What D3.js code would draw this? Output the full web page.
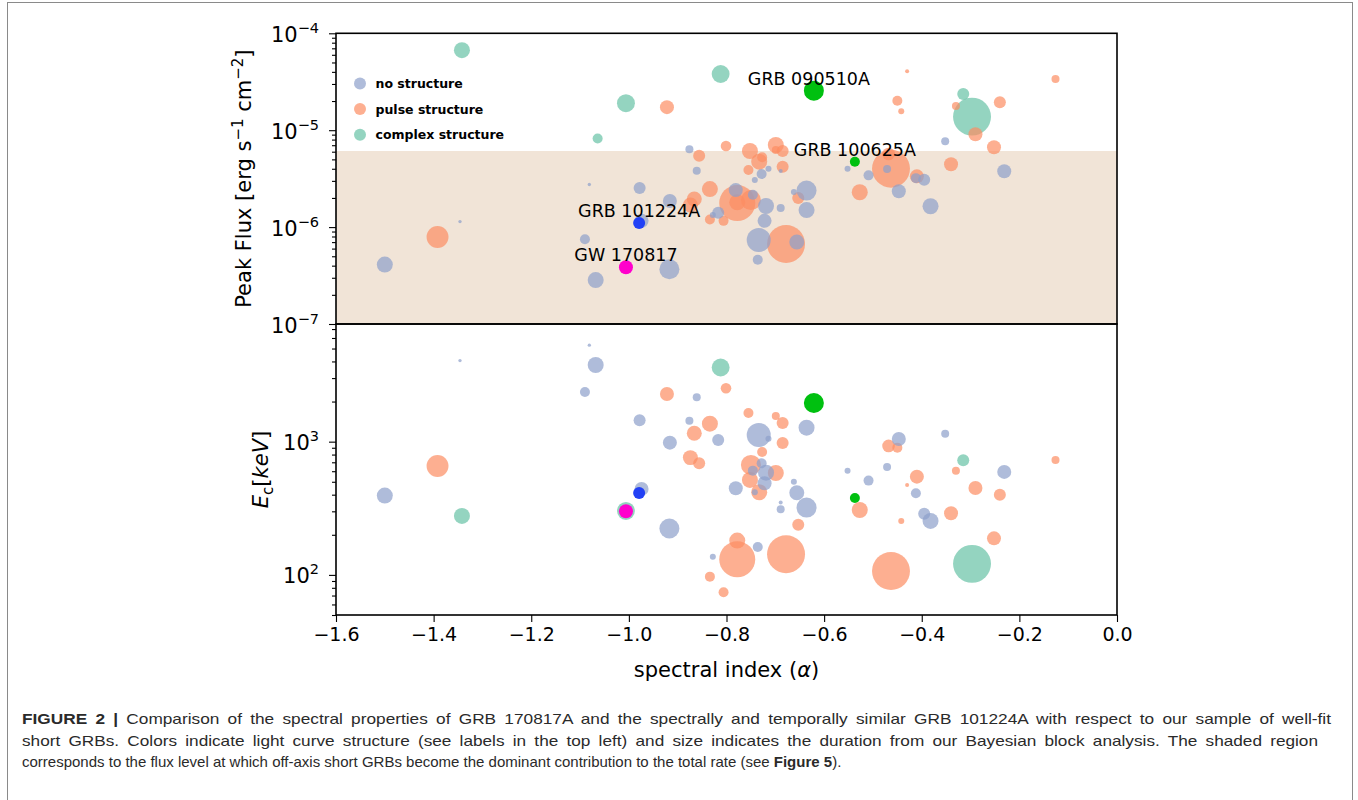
<!DOCTYPE html>
<html>
<head>
<meta charset="utf-8">
<script src="https://cdn.jsdelivr.net/npm/d3@7"></script>
<style>
body{margin:0;background:#fff}
svg{display:block}
</style>
</head>
<body>
<div id="chart"></div>
<script>
// sample of short GRBs, one entry per burst
var alpha = [-1.500,-1.392,-1.342,-1.346,-1.081,-1.090,-1.068,-1.064,-1.006,-0.974,
  -0.978,-0.922,-0.916,-0.917,-0.876,-0.861,-0.856,-0.801,-0.834,-0.866,
  -0.874,-0.817,-0.834,-0.806,-0.812,-0.828,-0.755,-0.699,-0.685,-0.685,
  -0.734,-0.714,-0.727,-0.750,-0.746,-0.728,-0.719,-0.699,-0.752,-0.781,
  -0.722,-0.733,-0.742,-0.662,-0.656,-0.636,-0.689,-0.689,-0.653,-0.636,
  -0.778,-0.736,-0.778,-0.678,-0.552,-0.527,-0.509,-0.471,-0.468,-0.463,
  -0.450,-0.447,-0.442,-0.430,-0.412,-0.410,-0.395,-0.382,-0.352,-0.340,
  -0.330,-0.315,-0.297,-0.290,-0.252,-0.240,-0.231,-0.126];
var peakFlux = [4.1e-7,7.9e-7,6.7e-5,1.14e-6,2.75e-6,7.5e-7,2.84e-7,8.2e-6,1.9e-5,1.16e-6,
  2.53e-6,1.73e-5,1.86e-6,3.67e-7,6.35e-6,3.82e-6,5.45e-6,6.87e-6,2.47e-6,1.95e-6,
  1.69e-6,1.41e-6,1.20e-6,1.16e-6,3.80e-5,1.33e-6,3.88e-6,6.25e-6,6.10e-6,4.20e-6,
  7.36e-7,4.01e-6,5.25e-6,1.90e-6,2.16e-6,3.53e-6,1.65e-6,7.03e-6,6.10e-6,2.41e-6,
  1.16e-6,4.73e-6,3.06e-6,2.30e-6,7.02e-7,2.38e-6,3.79e-6,1.57e-6,2.00e-6,1.50e-6,
  1.80e-6,4.61e-7,1.77e-6,6.70e-7,4.01e-6,2.29e-6,3.42e-6,3.98e-6,5.68e-6,4.01e-6,
  2.01e-5,2.34e-6,1.57e-5,4.06e-5,3.20e-6,3.34e-6,3.08e-6,1.64e-6,7.68e-6,4.45e-6,
  1.78e-5,2.36e-5,1.38e-5,9.07e-6,6.66e-6,1.94e-5,3.77e-6,3.38e-5];
var ecKeV = [394,657,277,4060,5300,2360,3760,9000,302,442,
  1447,2280,983,223,1438,2150,689,2516,1365,1156,
  759,1030,97,74,3600,137,1642,1559,1381,978,
  1123,1053,837,669,606,689,585,582,516,447,
  487,417,417,501,414,320,349,311,238,1274,
  181,162,131,143,606,307,510,646,929,107,
  902,1048,254,473,410,546,288,254,1148,290,
  606,725,121,449,188,400,593,729];
var duration = [16,30,16,0.7,0.7,6.25,16,6.25,20,12.25,
  9,12.25,12.25,25,4,4,9,7,16,14,
  14,9,6.25,6.25,20,2.25,6.25,4,9,9,
  36,2.25,6.25,25,6.25,6.25,16,16,16,12.25,
  12.25,16,2.25,2.25,14,25,1,4,9,16,
  16,6.25,81,90,2.25,16,6.25,4,10,90,
  6.25,12.25,2.25,1,6.25,12.25,9,16,4,12.25,
  4,9,90,12.25,12.25,9,12.25,4];
var structure = ["none","pulse","complex","none","none","none","none","complex","complex","none",
  "none","pulse","none","none","none","none","pulse","pulse","pulse","pulse",
  "pulse","none","pulse","pulse","complex","none","pulse","pulse","pulse","pulse",
  "none","none","pulse","pulse","none","none","none","pulse","pulse","none",
  "none","pulse","none","none","none","none","none","none","pulse","none",
  "pulse","none","pulse","pulse","none","pulse","none","none","pulse","pulse",
  "pulse","none","pulse","pulse","none","pulse","none","none","none","pulse",
  "pulse","complex","complex","pulse","pulse","pulse","none","pulse"];

// named bursts
var hlName = ["GW 170817","GRB 101224A","GRB 090510A","GRB 100625A"];
var hlAlpha = [-1.006,-0.979,-0.621,-0.537];
var hlFlux = [3.85e-7,1.10e-6,2.56e-5,4.73e-6];
var hlEc = [300,412,1950,378];
var hlDuration = [12.25,9,25,6.25];

var legendLabels = ["no structure","pulse structure","complex structure"];
var structKeys = ["none","pulse","complex"];
var xTicks = [-1.6,-1.4,-1.2,-1.0,-0.8,-0.6,-0.4,-0.2,0.0];
var fluxBand = [1e-7, 6.1e-6];

var colors = {none:"#8da0cb", pulse:"#fc8d62", complex:"#66c2a5"};
var hlColors = ["#ff00cc","#2240f5","#00c010","#00c010"];
var hlLabelDx = [0, 0, -5, 0];

var width = 1358, height = 800;
var left = 336, right = 1117;
var topY = 33.3, midY = 324, botY = 615;

var svg = d3.select("#chart").append("svg")
  .attr("width", width).attr("height", height)
  .style("font-family", "DejaVu Sans");

// frame round the whole figure
svg.append("rect")
  .attr("x", 7.5).attr("y", 2.5).attr("width", 1345).attr("height", 820)
  .attr("fill", "none").attr("stroke", "#8a8a8a").attr("stroke-width", 1);

var x = d3.scaleLinear().domain([-1.6, 0]).range([left, right]);
var yTop = d3.scaleLog().domain([1e-7, 1e-4]).range([midY, topY]);
var yBot = d3.scaleLog().domain([50, 7640]).range([botY, midY]);
var rScale = d3.scaleSqrt().domain([0, 100]).range([0, 20]);

var grbs = alpha.map(function(a, i){
  return {alpha:a, flux:peakFlux[i], ec:ecKeV[i], dur:duration[i], s:structure[i]};
});
// draw complex first, then pulse, then no structure
var order = {complex:0, pulse:1, none:2};
grbs.sort(function(a, b){ return order[a.s] - order[b.s]; });

var hl = hlName.map(function(n, i){
  return {name:n, alpha:hlAlpha[i], flux:hlFlux[i], ec:hlEc[i], dur:hlDuration[i],
    color:hlColors[i], dx:hlLabelDx[i]};
});

var defs = svg.append("defs");
defs.append("clipPath").attr("id", "clipTop").append("rect")
  .attr("x", left).attr("y", topY).attr("width", right-left).attr("height", midY-topY);
defs.append("clipPath").attr("id", "clipBot").append("rect")
  .attr("x", left).attr("y", midY).attr("width", right-left).attr("height", botY-midY);

// ---- top panel
var gTop = svg.append("g").attr("clip-path", "url(#clipTop)");
gTop.append("rect")
  .attr("x", left).attr("width", right-left)
  .attr("y", yTop(fluxBand[1])).attr("height", yTop(fluxBand[0]) - yTop(fluxBand[1]))
  .attr("fill", "#d2a679").attr("fill-opacity", 0.3);

gTop.selectAll("circle.grb").data(grbs).enter().append("circle")
  .attr("class", "grb")
  .attr("cx", function(d){ return x(d.alpha); })
  .attr("cy", function(d){ return yTop(d.flux); })
  .attr("r", function(d){ return rScale(d.dur); })
  .attr("fill", function(d){ return colors[d.s]; })
  .attr("fill-opacity", 0.7);

gTop.selectAll("circle.hl").data(hl).enter().append("circle")
  .attr("class", "hl")
  .attr("cx", function(d){ return x(d.alpha); })
  .attr("cy", function(d){ return yTop(d.flux); })
  .attr("r", function(d){ return rScale(d.dur); })
  .attr("fill", function(d){ return d.color; });

// ---- bottom panel
var gBot = svg.append("g").attr("clip-path", "url(#clipBot)");
gBot.selectAll("circle.grb").data(grbs).enter().append("circle")
  .attr("class", "grb")
  .attr("cx", function(d){ return x(d.alpha); })
  .attr("cy", function(d){ return yBot(d.ec); })
  .attr("r", function(d){ return rScale(d.dur); })
  .attr("fill", function(d){ return colors[d.s]; })
  .attr("fill-opacity", 0.7);

gBot.selectAll("circle.hl").data(hl).enter().append("circle")
  .attr("class", "hl")
  .attr("cx", function(d){ return x(d.alpha); })
  .attr("cy", function(d){ return yBot(d.ec); })
  .attr("r", function(d){ return rScale(d.dur); })
  .attr("fill", function(d){ return d.color; });

// annotations
svg.selectAll("text.hlname").data(hl).enter().append("text")
  .attr("class", "hlname")
  .attr("x", function(d){ return x(d.alpha) + d.dx; })
  .attr("y", function(d){ return yTop(d.flux) - 6; })
  .attr("text-anchor", "middle")
  .attr("font-size", "17.5px")
  .attr("fill", "#000")
  .text(function(d){ return d.name; });

// ---- axes
function minorDecades(lo, hi){
  var out = [];
  for (var e = Math.floor(Math.log10(lo)); e <= Math.ceil(Math.log10(hi)); e++){
    for (var m = 2; m <= 9; m++){
      var v = m * Math.pow(10, e);
      if (v >= lo && v <= hi) out.push(v);
    }
  }
  return out;
}

function logAxis(scale, majors, y0, y1){
  var g = svg.append("g").attr("transform", "translate(" + left + ",0)");
  g.call(d3.axisLeft(scale).tickValues(majors).tickSize(7).tickFormat(""));
  var g2 = svg.append("g").attr("transform", "translate(" + left + ",0)");
  g2.call(d3.axisLeft(scale).tickValues(minorDecades(y0, y1)).tickSize(4).tickFormat(""));
  [g, g2].forEach(function(a){
    a.select(".domain").remove();
    a.selectAll("line").attr("stroke", "#000").attr("stroke-width", 1.1);
  });
  majors.forEach(function(v){
    var e = Math.round(Math.log10(v));
    var t = svg.append("text")
      .attr("x", left - 17).attr("y", scale(v) + 8.5)
      .attr("text-anchor", "end").attr("font-size", "21px").attr("fill", "#000");
    t.append("tspan").text("10");
    t.append("tspan").attr("font-size", "14.5px").attr("dy", "-9")
      .text(e < 0 ? "\u2212" + (-e) : String(e));
  });
}

logAxis(yTop, [1e-7, 1e-6, 1e-5, 1e-4], 1e-7, 1e-4);
logAxis(yBot, [100, 1000], 50, 7640);

// x axis at the bottom
var xAxis = svg.append("g").attr("transform", "translate(0," + botY + ")")
  .call(d3.axisBottom(x).tickValues(xTicks).tickSize(7).tickPadding(6)
    .tickFormat(function(v){ return d3.format(".1f")(v); }));
xAxis.select(".domain").remove();
xAxis.selectAll("line").attr("stroke", "#000").attr("stroke-width", 1.1);
xAxis.selectAll("text").attr("font-size", "19px").attr("font-family", "DejaVu Sans").attr("fill", "#000");

// panel frames
[[topY, midY], [midY, botY]].forEach(function(p){
  svg.append("rect")
    .attr("x", left).attr("y", p[0]).attr("width", right-left).attr("height", p[1]-p[0])
    .attr("fill", "none").attr("stroke", "#000").attr("stroke-width", 1.6);
});

// axis titles
var xl = svg.append("text")
  .attr("x", (left+right)/2).attr("y", 677)
  .attr("text-anchor", "middle").attr("font-size", "21px");
xl.append("tspan").text("spectral index (");
xl.append("tspan").attr("font-style", "italic").text("\u03b1");
xl.append("tspan").text(")");

var yl = svg.append("text")
  .attr("transform", "translate(251," + ((topY+midY)/2) + ") rotate(-90)")
  .attr("text-anchor", "middle").attr("font-size", "21px");
yl.append("tspan").text("Peak Flux [erg s");
yl.append("tspan").attr("font-size", "15px").attr("dy", "-8").text("\u22121");
yl.append("tspan").attr("dy", "8").text(" cm");
yl.append("tspan").attr("font-size", "15px").attr("dy", "-8").text("\u22122");
yl.append("tspan").attr("dy", "8").text("]");

var el = svg.append("text")
  .attr("transform", "translate(268," + ((midY+botY)/2) + ") rotate(-90)")
  .attr("text-anchor", "middle").attr("font-size", "21px");
el.append("tspan").attr("font-style", "italic").text("E");
el.append("tspan").attr("font-size", "15px").attr("dy", "5").text("c");
el.append("tspan").attr("dy", "-5").text("[");
el.append("tspan").attr("font-style", "italic").text("keV");
el.append("tspan").text("]");

// legend
var leg = svg.append("g");
legendLabels.forEach(function(lab, i){
  var cy = 83.5 + i * 25.6;
  leg.append("circle").attr("cx", 360).attr("cy", cy).attr("r", 6)
    .attr("fill", colors[structKeys[i]]).attr("fill-opacity", 0.7);
  leg.append("text").attr("x", 375.5).attr("y", cy + 4.5)
    .attr("font-size", "12.5px").attr("font-weight", "bold").text(lab);
});

// caption: first two lines justified, last line ragged
var capLines = [
  [["FIGURE 2 | ", true], ["Comparison of the spectral properties of GRB 170817A and the spectrally and temporally similar GRB 101224A with respect to our sample of well-fit", false]],
  [["short GRBs. Colors indicate light curve structure (see labels in the top left) and size indicates the duration from our Bayesian block analysis. The shaded region", false]],
  [["corresponds to the flux level at which off-axis short GRBs become the dominant contribution to the total rate (see ", false], ["Figure 5", true], [").", false]]
];
var capRight = [1331, 1318];
var capY = [724, 746, 767];
var capX = 22;

capLines.forEach(function(parts, i){
  var t = svg.append("text")
    .attr("x", capX).attr("y", capY[i])
    .attr("font-family", "Liberation Sans").attr("font-size", "15px").attr("fill", "#2a2a2a");
  parts.forEach(function(p){
    t.append("tspan").attr("font-weight", p[1] ? "bold" : "normal").text(p[0]);
  });
  if (i < 2){
    t.attr("word-spacing", 3)
      .attr("textLength", capRight[i] - capX).attr("lengthAdjust", "spacingAndGlyphs");
  }
});
</script>
</body>
</html>
